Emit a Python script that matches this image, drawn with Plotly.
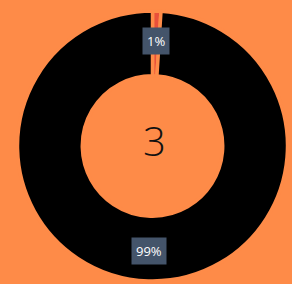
import math
import plotly.graph_objects as go

categories = ["A", "B"]
values = [1, 99]
slice_colors = ["#E8503A", "#000000"]
center_value = "3"

W, H = 292, 284
BG = "#FE8B48"

# pie placement (pixels)
cx, cy, R = 152.5, 146.0, 135.0
hole = 0.52

fig = go.Figure(go.Pie(
    labels=categories,
    values=values,
    hole=hole,
    sort=False,
    direction="clockwise",
    rotation=0,
    marker=dict(colors=slice_colors, line=dict(color=BG, width=3.5)),
    textinfo="none",
    hoverinfo="skip",
    showlegend=False,
    domain=dict(x=[(cx - R) / W, (cx + R) / W], y=[1 - (cy + R) / H, 1 - (cy - R) / H]),
))

total = sum(values)
cum = 0.0
label_r = 105.0
for v in values:
    mid = (cum + v / 2) / total * 2 * math.pi
    cum += v
    px = cx + label_r * math.sin(mid)
    py = cy - label_r * math.cos(mid)
    pct = round(v / total * 100)
    fig.add_annotation(
        x=px / W, y=1 - py / H, xref="paper", yref="paper",
        text=f"{pct}%", showarrow=False,
        font=dict(family="Open Sans, sans-serif", size=13, color="white"),
        bgcolor="#44546A", borderpad=4,
        xanchor="center", yanchor="middle",
    )

fig.add_annotation(
    x=154 / W, y=1 - 140 / H, xref="paper", yref="paper",
    text=center_value, showarrow=False,
    font=dict(family="Open Sans, sans-serif", size=40, color="#111111", weight=300),
    xanchor="center", yanchor="middle",
)

fig.update_layout(
    width=W, height=H,
    margin=dict(l=0, r=0, t=0, b=0),
    paper_bgcolor=BG, plot_bgcolor=BG,
)

fig.write_html(
    "out.html",
    config={"displayModeBar": False},
    post_script="document.body.style.margin='0';document.body.style.background='" + BG + "';",
)
